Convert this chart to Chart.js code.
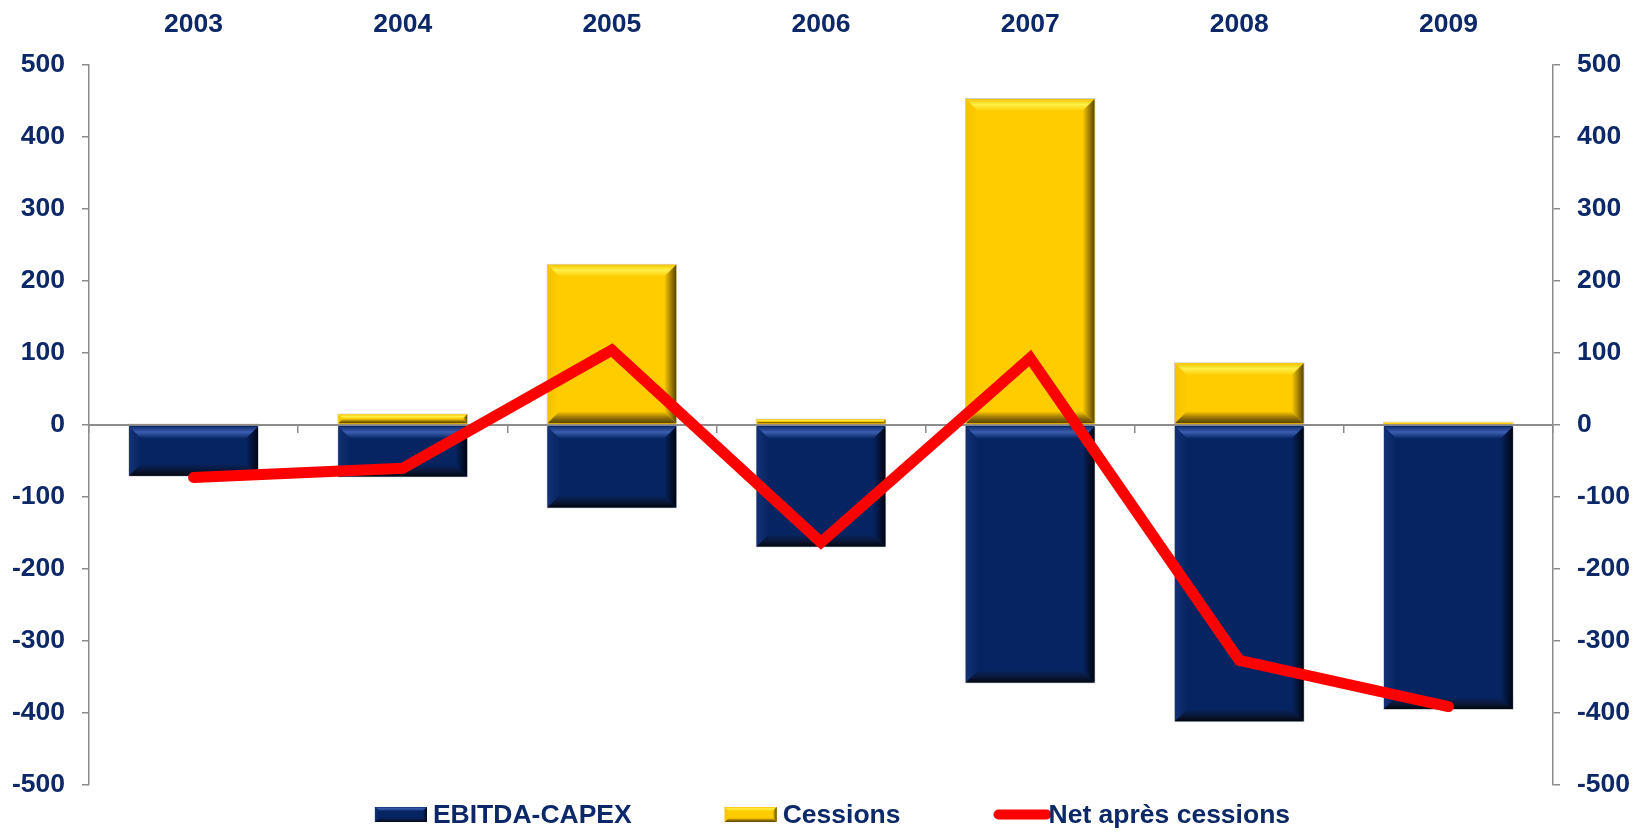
<!DOCTYPE html>
<html>
<head>
<meta charset="utf-8">
<script src="https://cdn.jsdelivr.net/npm/chart.js@4/dist/chart.umd.min.js"></script>
<style>
  html, body { margin: 0; padding: 0; background: #fff; }
  #wrap { width: 1643px; height: 836px; }
</style>
</head>
<body>
<div id="wrap"><canvas id="chart" width="1643" height="836"></canvas></div>
<script>
// data
const years = ['2003', '2004', '2005', '2006', '2007', '2008', '2009'];
const ebitdaCapex = [-72, -73, -116, -170, -359, -413, -396];
const cessions = [2, 16, 224, 9, 454, 87, 5];
const netApresCessions = [-73, -60, 104, -163, 93, -327, -391];
const yTicks = [-500, -400, -300, -200, -100, 0, 100, 200, 300, 400, 500];

const NAVY_TEXT = '#0C2868';
const AXIS_GREY = '#8C8C8C';
const FONT_SIZE = 26.5;
const FONT = { family: '"Liberation Sans", Arial, sans-serif', size: FONT_SIZE, weight: 'bold' };

// bevel colours per bar series
const bevel = {
  EBITDA: { main: '#072462', light: '#3A5DAE', side: '#133276', dark: '#0A1633', edge: '#00050F' },
  Cessions: { main: '#FFCC00', light: '#FFF04A', side: '#F5C400', dark: '#8A6A00', edge: '#5A4500' }
};

function drawBevelRect(ctx, l, t, r, b, c, size) {
  const h = b - t, w = r - l;
  const s = Math.min(size, h / 2, w / 2);
  if (s <= 0.5) return;
  let g;
  // top face
  g = ctx.createLinearGradient(0, t, 0, t + s);
  g.addColorStop(0, c.side); g.addColorStop(0.45, c.light); g.addColorStop(1, c.main);
  ctx.fillStyle = g;
  ctx.beginPath(); ctx.moveTo(l, t); ctx.lineTo(r, t); ctx.lineTo(r - s, t + s); ctx.lineTo(l + s, t + s); ctx.closePath(); ctx.fill();
  // left face
  g = ctx.createLinearGradient(l, 0, l + s, 0);
  g.addColorStop(0, c.side); g.addColorStop(1, c.main);
  ctx.fillStyle = g;
  ctx.beginPath(); ctx.moveTo(l, t); ctx.lineTo(l + s, t + s); ctx.lineTo(l + s, b - s); ctx.lineTo(l, b); ctx.closePath(); ctx.fill();
  // bottom face
  g = ctx.createLinearGradient(0, b - s, 0, b);
  g.addColorStop(0, c.main); g.addColorStop(0.6, c.dark); g.addColorStop(1, c.edge);
  ctx.fillStyle = g;
  ctx.beginPath(); ctx.moveTo(l, b); ctx.lineTo(r, b); ctx.lineTo(r - s, b - s); ctx.lineTo(l + s, b - s); ctx.closePath(); ctx.fill();
  // right face
  g = ctx.createLinearGradient(r - s, 0, r, 0);
  g.addColorStop(0, c.main); g.addColorStop(1, c.edge);
  ctx.fillStyle = g;
  ctx.beginPath(); ctx.moveTo(r, t); ctx.lineTo(r - s, t + s); ctx.lineTo(r - s, b - s); ctx.lineTo(r, b); ctx.closePath(); ctx.fill();
}

// bevel on each bar, drawn right after its dataset so the line stays on top
const bevelPlugin = {
  id: 'bevel',
  afterDatasetDraw(chart, args) {
    const ds = chart.data.datasets[args.index];
    const c = bevel[ds.bevelKey];
    if (!c) return;
    const ctx = chart.ctx;
    ctx.save();
    args.meta.data.forEach(bar => {
      const p = bar.getProps(['x', 'y', 'base', 'width'], true);
      const l = p.x - p.width / 2, r = p.x + p.width / 2;
      const t = Math.min(p.y, p.base), b = Math.max(p.y, p.base);
      drawBevelRect(ctx, l + 1, t + 1, r - 1, b - 1, c, 12);
    });
    ctx.restore();
  }
};

// legend drawn under the chart area
const legendPlugin = {
  id: 'bottomLegend',
  afterDraw(chart) {
    const ctx = chart.ctx;
    const area = chart.chartArea;
    const items = [chart.data.datasets[1], chart.data.datasets[2], chart.data.datasets[0]];
    ctx.save();
    ctx.font = 'bold ' + FONT_SIZE + 'px "Liberation Sans", Arial, sans-serif';
    const boxW = 52, gapItem = 93;
    const widths = items.map(d => boxW + (d.type === 'line' ? 3 : 6) + ctx.measureText(d.label).width);
    const total = widths.reduce((a, b) => a + b, 0) + gapItem * (items.length - 1);
    let x = (area.left + area.right) / 2 + 11.5 - total / 2;
    const midY = area.bottom + 29.5;
    const baseY = area.bottom + 38;
    items.forEach((d, i) => {
      if (d.type === 'line') {
        ctx.strokeStyle = d.borderColor;
        ctx.lineWidth = 10;
        ctx.lineCap = 'round';
        ctx.beginPath(); ctx.moveTo(x + 5, midY); ctx.lineTo(x + boxW + 1, midY); ctx.stroke();
      } else {
        ctx.fillStyle = d.backgroundColor;
        ctx.fillRect(x, midY - 7.5, boxW, 15);
        drawBevelRect(ctx, x, midY - 7.5, x + boxW, midY + 7.5, bevel[d.bevelKey], 4);
      }
      ctx.fillStyle = NAVY_TEXT;
      ctx.textBaseline = 'alphabetic';
      ctx.textAlign = 'left';
      ctx.fillText(d.label, x + boxW + (d.type === 'line' ? 3 : 6), baseY);
      x += widths[i] + gapItem;
    });
    ctx.restore();
  }
};

const yAxis = (pos) => ({
  position: pos,
  min: -500,
  max: 500,
  afterBuildTicks: s => { s.ticks = yTicks.map(v => ({ value: v })); },
  afterFit: s => { s.width = pos === 'left' ? 89 : 90; },
  grid: { drawOnChartArea: false, drawTicks: true, tickLength: 7, color: AXIS_GREY, lineWidth: 1.5 },
  border: { display: true, color: AXIS_GREY, width: 1.5 },
  ticks: { color: NAVY_TEXT, font: FONT, padding: 17 }
});

new Chart(document.getElementById('chart'), {
  type: 'bar',
  data: {
    labels: years,
    datasets: [
      {
        type: 'line',
        label: 'Net après cessions',
        data: netApresCessions,
        borderColor: '#FF0000',
        backgroundColor: '#FF0000',
        borderWidth: 11,
        borderJoinStyle: 'miter',
        borderCapStyle: 'round',
        pointRadius: 0,
        tension: 0,
        yAxisID: 'y2',
        order: 0
      },
      {
        label: 'EBITDA-CAPEX',
        data: ebitdaCapex,
        backgroundColor: '#072462',
        borderColor: 'rgba(200,200,200,0.9)',
        borderWidth: 1,
        bevelKey: 'EBITDA',
        order: 1
      },
      {
        label: 'Cessions',
        data: cessions,
        backgroundColor: '#FFCC00',
        borderColor: 'rgba(200,200,200,0.9)',
        borderWidth: 1,
        bevelKey: 'Cessions',
        order: 2
      }
    ]
  },
  options: {
    responsive: false,
    animation: false,
    devicePixelRatio: 1,
    layout: { padding: { top: 0, left: 0, right: 0, bottom: 51 } },
    datasets: { bar: { barPercentage: 0.625, categoryPercentage: 1 } },
    plugins: { legend: { display: false }, tooltip: { enabled: false } },
    scales: {
      x: {
        position: 'top',
        stacked: true,
        afterFit: s => { s.height = 65; },
        grid: { display: false, drawTicks: false },
        border: { display: false },
        ticks: { color: NAVY_TEXT, font: FONT, padding: 24.5, maxRotation: 0 }
      },
      x0: {
        type: 'category',
        labels: years,
        position: { y: 0 },
        offset: true,
        grid: { offset: true, drawOnChartArea: false, drawTicks: true, tickLength: 7, color: AXIS_GREY, lineWidth: 1.5 },
        border: { display: true, color: AXIS_GREY, width: 2 },
        ticks: { display: false }
      },
      y: Object.assign(yAxis('left'), { stacked: true }),
      y2: yAxis('right')
    }
  },
  plugins: [bevelPlugin, legendPlugin]
});
</script>
</body>
</html>
